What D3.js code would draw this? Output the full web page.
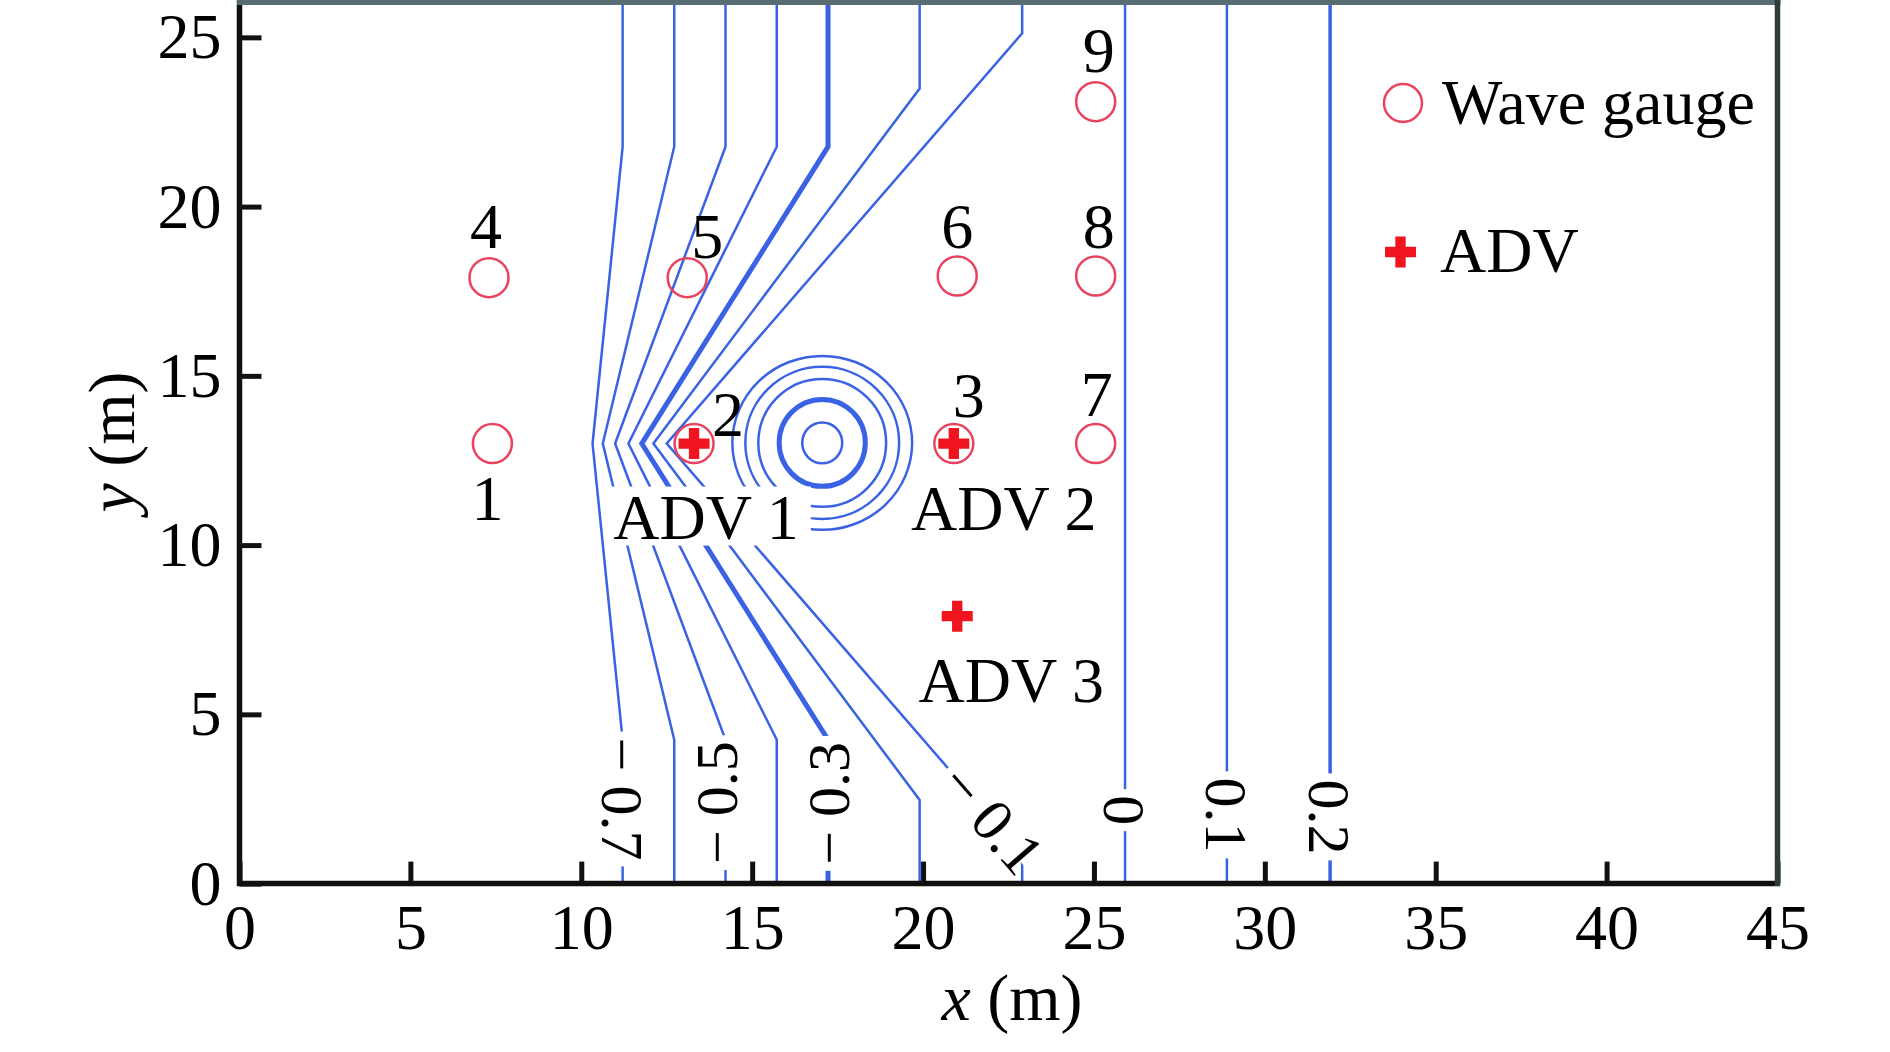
<!DOCTYPE html>
<html><head><meta charset="utf-8">
<script src="https://cdn.jsdelivr.net/npm/d3@7"></script>
<style>
body{margin:0;background:#fff}
svg{display:block}
text{font-family:"Liberation Serif","Times New Roman",serif;fill:#000}
</style>
</head><body>
<svg id="c" width="1890" height="1052"></svg>
<script>
// ---------------- data ----------------
const xTicks = [0,5,10,15,20,25,30,35,40,45];
const yTicks = [0,5,10,15,20,25];

const gaugeIds = ["1","2","3","4","5","6","7","8","9"];
const gaugeX   = [7.4, 13.3, 20.9, 7.3, 13.1, 21.0, 25.05, 25.05, 25.05];
const gaugeY   = [13.0, 13.0, 13.0, 17.9, 17.9, 17.95, 13.0, 17.95, 23.1];

const advNames = ["ADV 1","ADV 2","ADV 3"];
const advX     = [13.3, 20.9, 21.0];
const advY     = [13.0, 13.0, 7.9];

const contourLevels = ["−0.7","−0.6","−0.5","−0.4","−0.3","−0.2","−0.1","0","0.1","0.2"];
const contourPaths = [
  [[11.21,26.2],[11.21,21.77],[10.33,13],[11.21,4.25],[11.21,0]],
  [[12.72,26.2],[12.72,21.77],[10.63,13],[12.72,4.25],[12.72,0]],
  [[14.22,26.2],[14.22,21.77],[10.99,13],[14.22,4.25],[14.22,0]],
  [[15.72,26.2],[15.72,21.77],[11.38,13],[15.72,4.25],[15.72,0]],
  [[17.22,26.2],[17.22,21.77],[11.77,13],[17.22,4.25],[17.22,0]],
  [[19.9,26.2],[19.9,23.49],[12.11,13],[19.9,2.47],[19.9,0]],
  [[22.9,26.2],[22.9,25.12],[12.5,13],[22.9,0.88],[22.9,0]],
  [[25.91,26.2],[25.91,0]],
  [[28.89,26.2],[28.89,0]],
  [[31.91,26.2],[31.91,0]]
];

// contour labels placed on their lines
const contourLabelText = ["−0.7","−0.5","−0.3","−0.1","0","0.1","0.2"];
const contourLabelX    = [11.21, 14.22, 17.22, 22.03, 25.91, 28.89, 31.91];
const contourLabelY    = [2.50, 2.39, 2.37, 1.92, 2.17, 2.03, 1.97];

// shoal rings (semi-axes in m)
const shoalCenter = [17.05, 13.02];
const ringRx = [0.585, 1.26, 1.87, 2.25, 2.63];
const ringRy = [0.605, 1.285, 1.89, 2.25, 2.57];

const legendItems = ["Wave gauge","ADV"];

// ---------------- layout / style ----------------
const BLUE = "#3a62e4";
const PINK = "#e8435f";
const RED  = "#f0141e";
const m = {left:239.5, right:1777.5, top:3.5, bottom:883.6};
const labelAngle = [90, -90, -90, null, 90, 90, 90];   // null: along line
const labelShift = [0, -10, 0, 0, 0, 0, 0];
const gaugeLabelDx = [-5, 34, 15, -3, 20, 0, 1, 3, 3];
const gaugeLabelDy = [76, -8, -27, -30, -20, -28, -28, -28, -30];
const advLabelDx = [12, 50, 54];
const advLabelDy = [95, 86, 85.5];

const svg = d3.select("#c");
const x = d3.scaleLinear().domain([0,45]).range([m.left, m.right]);
const y = d3.scaleLinear().domain([0,26]).range([m.bottom, m.top]);

svg.append("defs").append("clipPath").attr("id","plot")
  .append("rect").attr("x",m.left).attr("y",0)
  .attr("width",m.right-m.left).attr("height",m.bottom);

// contours
const gC = svg.append("g").attr("clip-path","url(#plot)");
const line = d3.line().x(d=>x(d[0])).y(d=>y(d[1]));
gC.selectAll("path.ct").data(contourPaths).join("path")
  .attr("class","ct")
  .attr("d", line).attr("fill","none").attr("stroke", BLUE)
  .attr("stroke-width",(d,i)=> i===4 ? 5 : (i===9 ? 3.5 : 2.5))
  .attr("stroke-linejoin","miter").attr("stroke-miterlimit",6);

gC.selectAll("ellipse.ring").data(ringRx).join("ellipse")
  .attr("class","ring")
  .attr("cx", x(shoalCenter[0])).attr("cy", y(shoalCenter[1]))
  .attr("rx", d => x(d) - x(0))
  .attr("ry", (d,i) => y(0) - y(ringRy[i]))
  .attr("fill","none").attr("stroke", BLUE)
  .attr("stroke-width",(d,i)=> i===1 ? 5 : 2.5);

// contour labels with gaps
const labG = svg.append("g");
contourLabelText.forEach((t,i)=>{
  const px = x(contourLabelX[i]), py = y(contourLabelY[i]);
  let ang = labelAngle[i];
  if (ang === null) {
    const p = contourPaths[contourLevels.indexOf(t)];
    const a = p[2], b = p[3];
    ang = Math.atan2(y(b[1])-y(a[1]), x(b[0])-x(a[0])) * 180/Math.PI;
  }
  const g = labG.append("g").attr("transform",`translate(${px},${py}) rotate(${ang})`);
  const rect = g.append("rect").attr("fill","#fff");
  const txt = g.append("text").attr("text-anchor","middle")
    .attr("y", labelShift[i]).attr("dy","0.35em").style("font-size","60px");
  if (t.startsWith("−")) {
    txt.append("tspan").text("−");
    txt.append("tspan").attr("dx",14).text(t.slice(1));
  } else txt.text(t);
  const bb = txt.node().getBBox();
  rect.attr("x", bb.x-6).attr("y",-7).attr("width", bb.width+12).attr("height",14);
});

// ADV labels (ADV 1 has a white box)
advNames.forEach((t,i)=>{
  const tx = x(advX[i]) + advLabelDx[i], ty = y(advY[i]) + advLabelDy[i];
  const g = svg.append("g");
  const rect = g.append("rect").attr("fill", i===0 ? "#fff" : "none");
  const txt = g.append("text").attr("x",tx).attr("y",ty).attr("text-anchor","middle")
    .style("font-size","64px").text(t);
  if (i===0) {
    const bb = txt.node().getBBox();
    rect.attr("x", bb.x-6).attr("y", ty-52).attr("width", bb.width+18).attr("height", 59);
  }
});

// gauges
svg.append("g").selectAll("circle").data(gaugeX).join("circle")
  .attr("cx", d=>x(d)).attr("cy",(d,i)=>y(gaugeY[i])).attr("r",19.5)
  .attr("fill","none").attr("stroke",PINK).attr("stroke-width",2.5);
svg.append("g").selectAll("text").data(gaugeIds).join("text")
  .attr("x",(d,i)=>x(gaugeX[i])+gaugeLabelDx[i])
  .attr("y",(d,i)=>y(gaugeY[i])+gaugeLabelDy[i])
  .attr("text-anchor","middle").style("font-size","64px").text(d=>d);

// ADV crosses
const cross = d3.symbol().type(d3.symbolCross).size(534);
svg.append("g").selectAll("path").data(advX).join("path")
  .attr("d", cross)
  .attr("transform",(d,i)=>`translate(${x(d)},${y(advY[i])})`)
  .attr("fill",RED);

// axes
const xAxis = d3.axisBottom(x).tickValues(xTicks).tickSizeInner(-22).tickSizeOuter(0).tickPadding(20).tickFormat(d3.format("d"));
const yAxis = d3.axisLeft(y).tickValues(yTicks).tickSizeInner(-22).tickSizeOuter(0).tickPadding(18).tickFormat(d3.format("d"));
const gx = svg.append("g").attr("transform",`translate(0,${m.bottom})`).call(xAxis);
const gy = svg.append("g").attr("transform",`translate(${m.left},0)`).call(yAxis);
[gx,gy].forEach(g=>{
  g.select(".domain").attr("stroke","#111").attr("stroke-width",5.5);
  g.selectAll(".tick line").attr("stroke","#111").attr("stroke-width",5);
  g.selectAll(".tick text").attr("fill","#000")
    .style("font-size","64px").style("font-family","'Liberation Serif','Times New Roman',serif");
});
gy.select(".domain").attr("d",`M0,${m.bottom+2.5}V0`);
gx.select(".domain").attr("d",`M${m.left-2.5},0H${m.right+2.5}`);

// frame top & right
svg.append("line").attr("x1",m.left-2.5).attr("x2",m.right+3).attr("y1",2.5).attr("y2",2.5)
  .attr("stroke","#596c71").attr("stroke-width",5);
svg.append("line").attr("x1",m.right).attr("x2",m.right).attr("y1",0).attr("y2",m.bottom+2.5)
  .attr("stroke","#2e3a3c").attr("stroke-width",5.5);

// axis titles
const xt = svg.append("text").attr("x",1012).attr("y",1020).attr("text-anchor","middle").style("font-size","66px");
xt.append("tspan").style("font-style","italic").text("x");
xt.append("tspan").text(" (m)");
const yt = svg.append("text").attr("transform","translate(134,442) rotate(-90)").attr("text-anchor","middle").style("font-size","66px");
yt.append("tspan").style("font-style","italic").text("y");
yt.append("tspan").text(" (m)");

// legend
const lg = svg.append("g");
lg.append("circle").attr("cx",1403).attr("cy",103).attr("r",19)
  .attr("fill","none").attr("stroke",PINK).attr("stroke-width",2.5);
lg.append("path").attr("d",cross).attr("transform","translate(1400.5,252)").attr("fill",RED);
lg.selectAll("text").data(legendItems).join("text")
  .attr("x",(d,i)=> i===0 ? 1442 : 1440)
  .attr("y",(d,i)=> i===0 ? 124 : 272)
  .style("font-size","64px").text(d=>d);
</script>
</body></html>
